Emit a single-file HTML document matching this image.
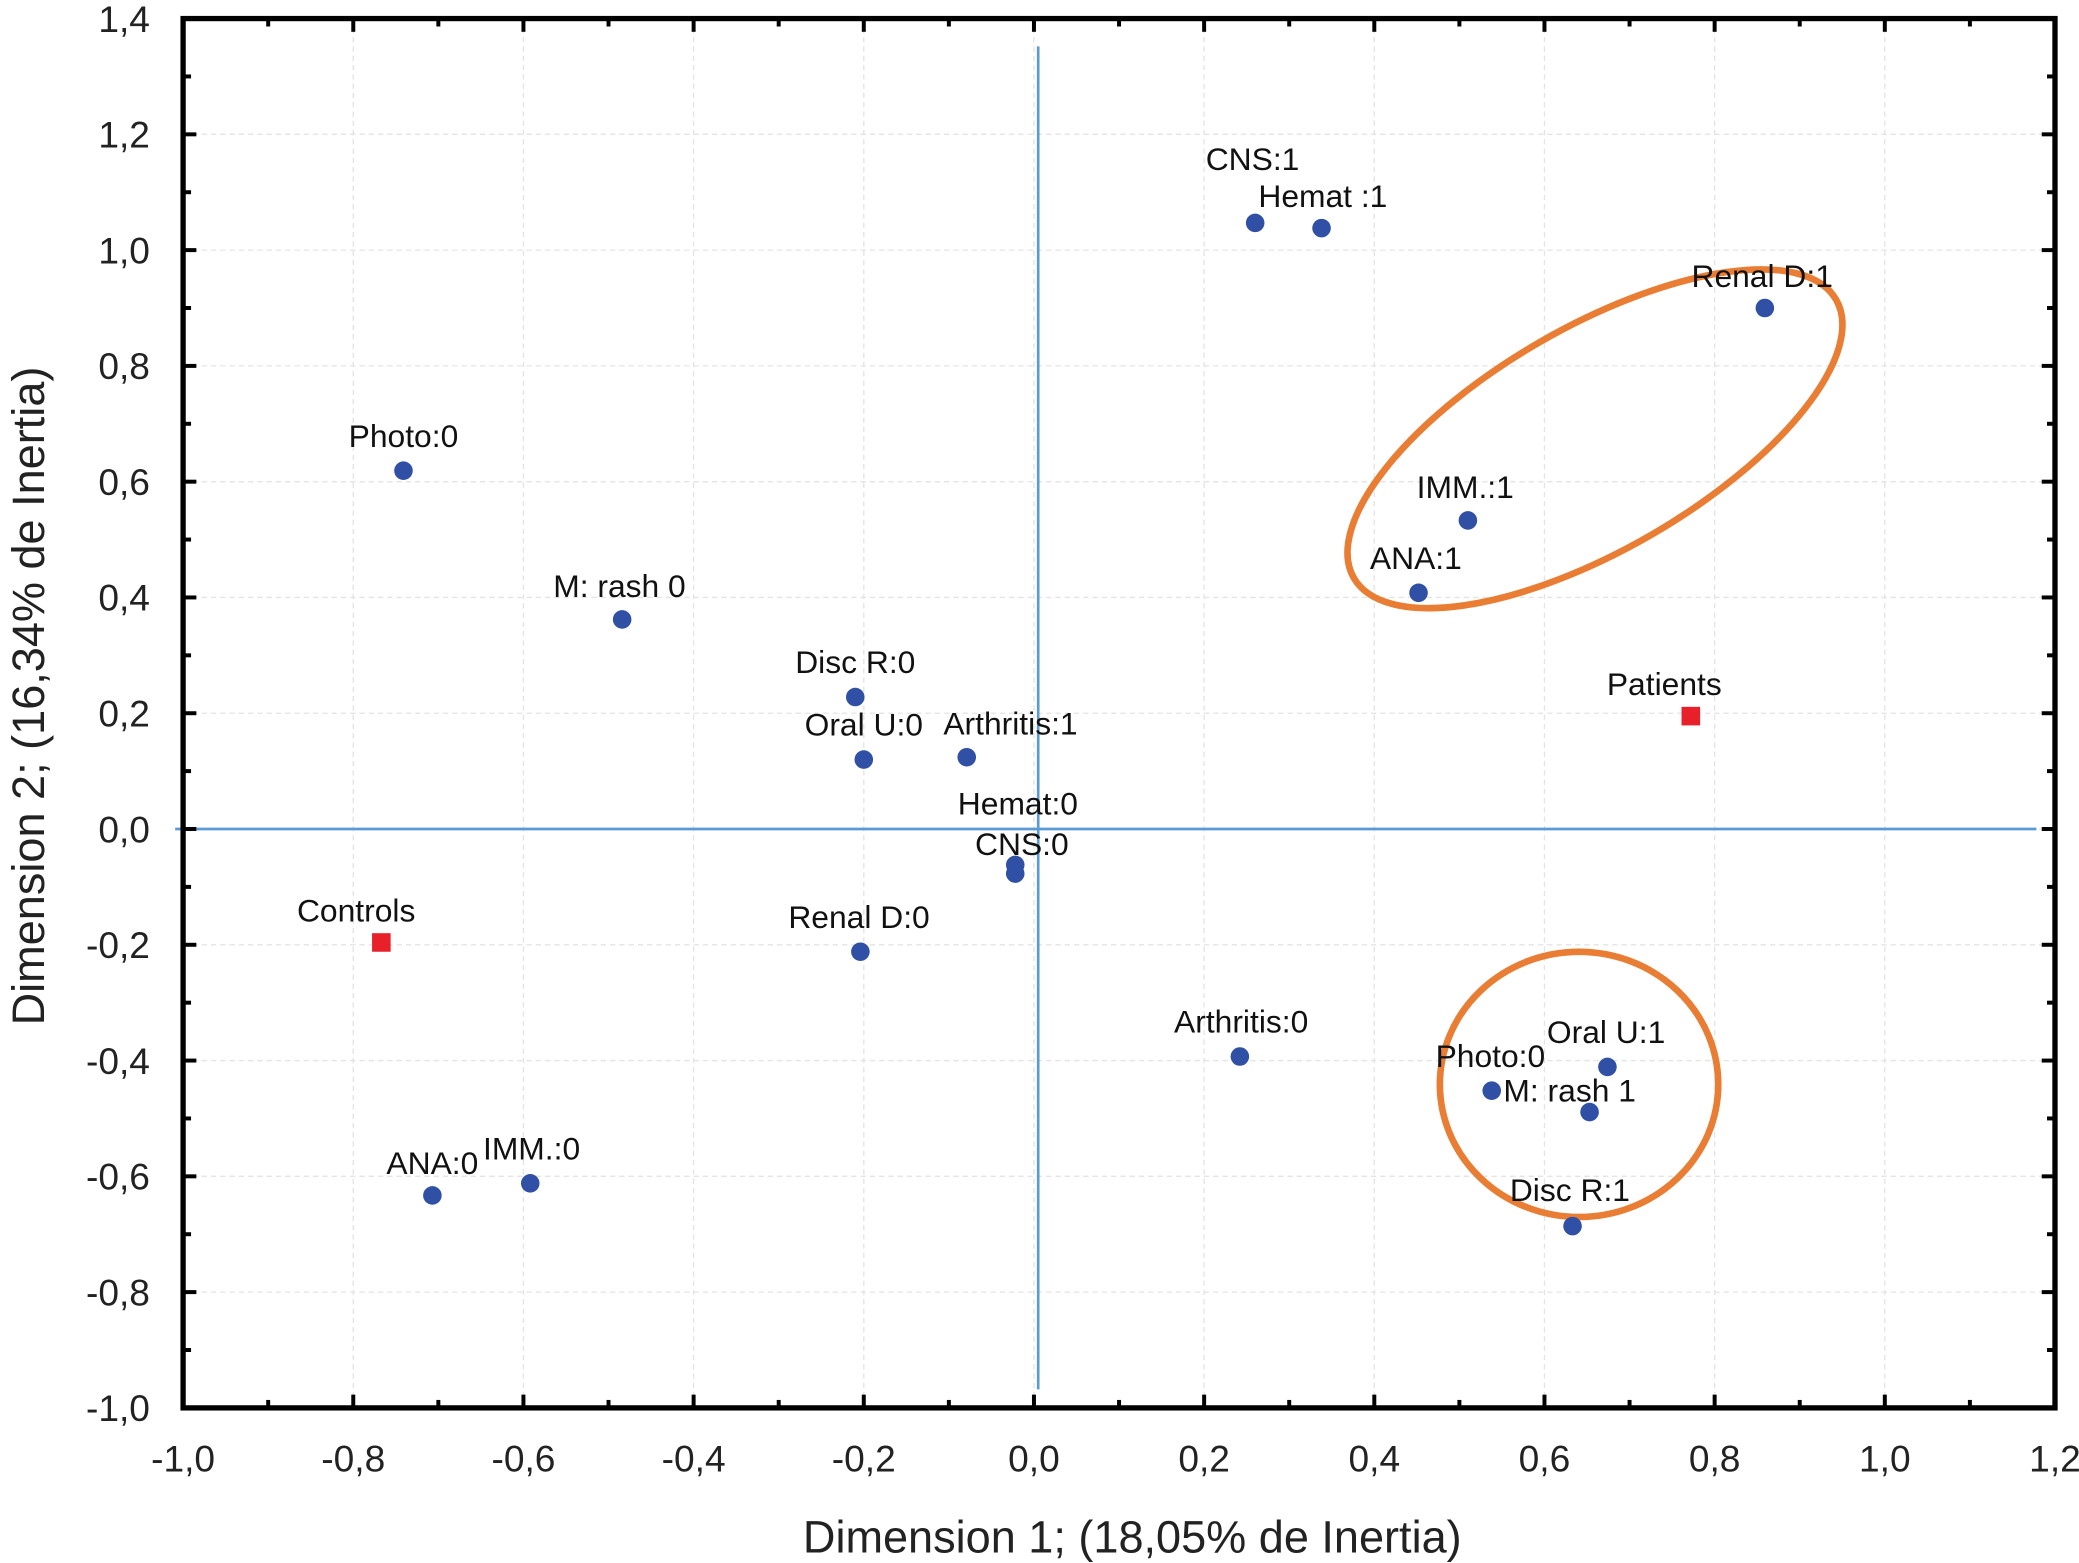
<!DOCTYPE html>
<html><head><meta charset="utf-8"><style>
html,body{margin:0;padding:0;background:#fff;}
svg{display:block;font-family:"Liberation Sans",Arial,sans-serif;}
</style></head><body>
<svg id="chart" width="2079" height="1563" viewBox="0 0 1568 1179" xmlns="http://www.w3.org/2000/svg">
<g id="grid"></g>
<g id="cross"></g>
<g id="ellipses"></g>
<g id="marks"></g>
<g id="frame"></g>
<g id="ticklabels"></g>
<text x="854" y="1171" text-anchor="middle" font-size="34" fill="#222">Dimension 1; (18,05% de Inertia)</text>
<text transform="translate(33,525) rotate(-90)" text-anchor="middle" font-size="34" fill="#222">Dimension 2; (16,34% de Inertia)</text>
</svg>
<script>
const labels = ["CNS:1","Hemat :1","Renal D:1","IMM.:1","ANA:1","Photo:0","M: rash 0","Disc R:0","Oral U:0","Arthritis:1","Hemat:0","CNS:0","Renal D:0","Arthritis:0","Photo:0","Oral U:1","M: rash 1","Disc R:1","ANA:0","IMM.:0"];
const dim1 = [0.26,0.338,0.859,0.51,0.452,-0.741,-0.484,-0.21,-0.2,-0.079,-0.022,-0.022,-0.204,0.242,0.538,0.674,0.653,0.633,-0.707,-0.592];
const dim2 = [1.047,1.038,0.9,0.533,0.408,0.619,0.362,0.228,0.12,0.124,-0.062,-0.077,-0.212,-0.393,-0.452,-0.411,-0.489,-0.686,-0.633,-0.612];
const labelDx = [-2,1,-2,-2,-2,0,-2,0,0,33,2,5,-1,1,-1,-1,-15,-2,0,1];
const labelDy = [-48,-24,-24,-25,-26,-26,-25,-26,-26,-25,-46,-22,-26,-26,-26,-26,-16,-27,-24,-26];
const groupLabels = ["Controls","Patients"];
const groupDim1 = [-0.767,0.772];
const groupDim2 = [-0.196,0.195];
const groupDx = [-19,-20];
const xTicks = ["-1,0","-0,8","-0,6","-0,4","-0,2","0,0","0,2","0,4","0,6","0,8","1,0","1,2"];
const yTicks = ["-1,0","-0,8","-0,6","-0,4","-0,2","0,0","0,2","0,4","0,6","0,8","1,0","1,2","1,4"];
const X0=138,X1=1550,Y0=1062,Y1=14;
const xs = v => X0 + (v+1.0)/(2.2)*(X1-X0);
const ys = v => Y0 - (v+1.0)/(2.4)*(Y0-Y1);
const NS="http://www.w3.org/2000/svg";
function mk(tag,attrs,parent){const e=document.createElementNS(NS,tag);for(const k in attrs)e.setAttribute(k,attrs[k]);document.getElementById(parent).appendChild(e);return e;}
for(let i=1;i<xTicks.length-1;i++){const v=-1+i*0.2;const e=mk('line',{x1:xs(v),x2:xs(v),y1:Y1,y2:Y0,stroke:'#e4e4e4','stroke-width':1,'stroke-dasharray':'4,3'},'grid');

}
for(let i=1;i<yTicks.length-1;i++){const v=-1+i*0.2;const e=mk('line',{x1:X0,x2:X1,y1:ys(v),y2:ys(v),stroke:'#e4e4e4','stroke-width':1,'stroke-dasharray':'4,3'},'grid');

}
let c=mk('line',{x1:xs(0.005),x2:xs(0.005),y1:35,y2:1048,stroke:'#5b9bd5','stroke-width':2},'cross');


c=mk('line',{x1:132,x2:1536,y1:ys(0),y2:ys(0),stroke:'#5b9bd5','stroke-width':2},'cross');


let el=mk('ellipse',{cx:1203,cy:331,rx:210,ry:84,transform:'rotate(-30 1203 331)',fill:'none',stroke:'#e87d33','stroke-width':5},'ellipses');


el=mk('ellipse',{cx:1191,cy:818,rx:105,ry:100,fill:'none',stroke:'#e87d33','stroke-width':5},'ellipses');


for(let i=0;i<labels.length;i++){
const px=xs(dim1[i]),py=ys(dim2[i]);
const p=mk('circle',{cx:px,cy:py,r:7,fill:'#3050a5'},'marks');


const t=mk('text',{x:px+labelDx[i],y:py+labelDy[i]+8,'text-anchor':'middle','font-size':24,fill:'#111'},'marks');
t.textContent=labels[i];

}
for(let i=0;i<groupLabels.length;i++){
const px=xs(groupDim1[i]),py=ys(groupDim2[i]);
const s=mk('rect',{x:px-7,y:py-7,width:14,height:14,fill:'#e8202a'},'marks');


const t=mk('text',{x:px+groupDx[i],y:py-24+8,'text-anchor':'middle','font-size':24,fill:'#111'},'marks');
t.textContent=groupLabels[i];

}
const f=mk('rect',{x:X0,y:Y1,width:X1-X0,height:Y0-Y1,fill:'none',stroke:'#000','stroke-width':4},'frame');


for(let i=0;i<=22;i++){const v=-1+i*0.1;const L=i%2===0?10:6;const x=xs(v);
let t=mk('line',{x1:x,x2:x,y1:Y0,y2:Y0-L,stroke:'#000','stroke-width':3},'frame');


t=mk('line',{x1:x,x2:x,y1:Y1,y2:Y1+L,stroke:'#000','stroke-width':3},'frame');

}
for(let i=0;i<=24;i++){const v=-1+i*0.1;const L=i%2===0?10:6;const y=ys(v);
let t=mk('line',{x1:X0,x2:X0+L,y1:y,y2:y,stroke:'#000','stroke-width':3},'frame');


t=mk('line',{x1:X1,x2:X1-L,y1:y,y2:y,stroke:'#000','stroke-width':3},'frame');

}
xTicks.forEach((s,i)=>{const t=mk('text',{x:xs(-1+i*0.2),y:1110,'text-anchor':'middle','font-size':28,fill:'#222'},'ticklabels');t.textContent=s;

});
yTicks.forEach((s,i)=>{const t=mk('text',{x:113,y:ys(-1+i*0.2)+10,'text-anchor':'end','font-size':28,fill:'#222'},'ticklabels');t.textContent=s;

});
</script>
</body></html>
